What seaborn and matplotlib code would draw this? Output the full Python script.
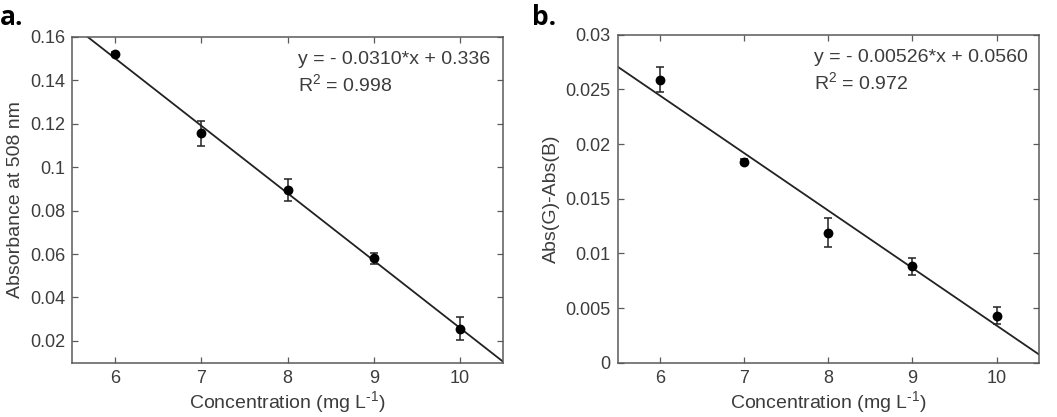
import numpy as np
import pandas as pd
import matplotlib
matplotlib.use("Agg")
import matplotlib.pyplot as plt
import seaborn as sns

# ---- data ----
conc = [6, 7, 8, 9, 10]
abs_508 = [0.1519, 0.1156, 0.0895, 0.0581, 0.0256]
abs_508_err = [0.0008, 0.0057, 0.0050, 0.0025, 0.0052]
abs_diff = [0.0259, 0.0184, 0.0119, 0.0088, 0.0043]
abs_diff_err = [0.0011, 0.0002, 0.0013, 0.0008, 0.0008]
fit_a = (-0.0310, 0.336)
fit_b = (-0.00526, 0.0560)
eq_a = ["y = - 0.0310*x + 0.336", "R$^2$ = 0.998"]
eq_b = ["y = - 0.00526*x + 0.0560", "R$^2$ = 0.972"]
yticks_a = [0.02, 0.04, 0.06, 0.08, 0.1, 0.12, 0.14, 0.16]
yticklabels_a = ["0.02", "0.04", "0.06", "0.08", "0.1", "0.12", "0.14", "0.16"]
yticks_b = [0, 0.005, 0.01, 0.015, 0.02, 0.025, 0.03]
yticklabels_b = ["0", "0.005", "0.01", "0.015", "0.02", "0.025", "0.03"]
xticks = [6, 7, 8, 9, 10]

sns.set_theme(style="ticks")
plt.rcParams["font.family"] = ["Liberation Sans", "DejaVu Sans"]
plt.rcParams["mathtext.fontset"] = "custom"
plt.rcParams["mathtext.rm"] = "Liberation Sans"
plt.rcParams["mathtext.it"] = "Liberation Sans:italic"
plt.rcParams["mathtext.bf"] = "Liberation Sans:bold"

TXT = "#3c3c3c"
SPINE = "#5a5a5a"

fig = plt.figure(figsize=(10.57, 4.17), dpi=100)
ax_a = fig.add_axes([0.0681, 0.1302, 0.4078, 0.782])
ax_b = fig.add_axes([0.5844, 0.1302, 0.3983, 0.7866])

def panel(ax, y, yerr, fit, eq, yticks, yticklabels, ylim, ylabel, eqx):
    df = pd.DataFrame({"x": conc, "y": y})
    xl = np.array([5.5, 10.5])
    line_df = pd.DataFrame({"x": xl, "y": fit[0] * xl + fit[1]})
    sns.lineplot(data=line_df, x="x", y="y", ax=ax, color="#222222", lw=1.3)
    ax.errorbar(conc, y, yerr=yerr, fmt="none", ecolor="#222222",
                elinewidth=1.1, capsize=3, capthick=1.1, zorder=3)
    sns.scatterplot(data=df, x="x", y="y", ax=ax, color="black", s=50,
                    edgecolor="black", linewidth=0, zorder=4)
    ax.set_xlim(5.5, 10.5)
    ax.set_ylim(*ylim)
    ax.set_xticks(xticks)
    ax.set_xticklabels([str(v) for v in xticks])
    ax.set_yticks(yticks)
    ax.set_yticklabels(yticklabels)
    ax.tick_params(direction="in", top=True, right=True, length=4,
                   width=0.9, color=SPINE, labelsize=13, labelcolor=TXT, pad=5)
    for s in ax.spines.values():
        s.set_color(SPINE)
        s.set_linewidth(1.1)
    ax.set_xlabel("Concentration (mg L$^{\\text{-}1}$)", fontsize=14, color=TXT, labelpad=2)
    ax.set_ylabel(ylabel, fontsize=14, color=TXT, labelpad=4)
    ax.text(eqx, 0.917, eq[0], transform=ax.transAxes, fontsize=14,
            color=TXT, va="baseline", ha="left")
    ax.text(eqx, 0.834, eq[1], transform=ax.transAxes, fontsize=14,
            color=TXT, va="baseline", ha="left")

panel(ax_a, abs_508, abs_508_err, fit_a, eq_a, yticks_a, yticklabels_a,
      (0.01, 0.16), "Absorbance at 508 nm", 0.524)
panel(ax_b, abs_diff, abs_diff_err, fit_b, eq_b, yticks_b, yticklabels_b,
      (0, 0.03), "Abs(G)-Abs(B)", 0.466)

fig.text(0.0, 0.99, "a.", fontsize=19, fontweight="bold",
         family=["Open Sans", "DejaVu Sans"], va="top", ha="left", color="black")
fig.text(0.503, 0.99, "b.", fontsize=19, fontweight="bold",
         family=["Open Sans", "DejaVu Sans"], va="top", ha="left", color="black")

fig.savefig("out.png", dpi=100)
